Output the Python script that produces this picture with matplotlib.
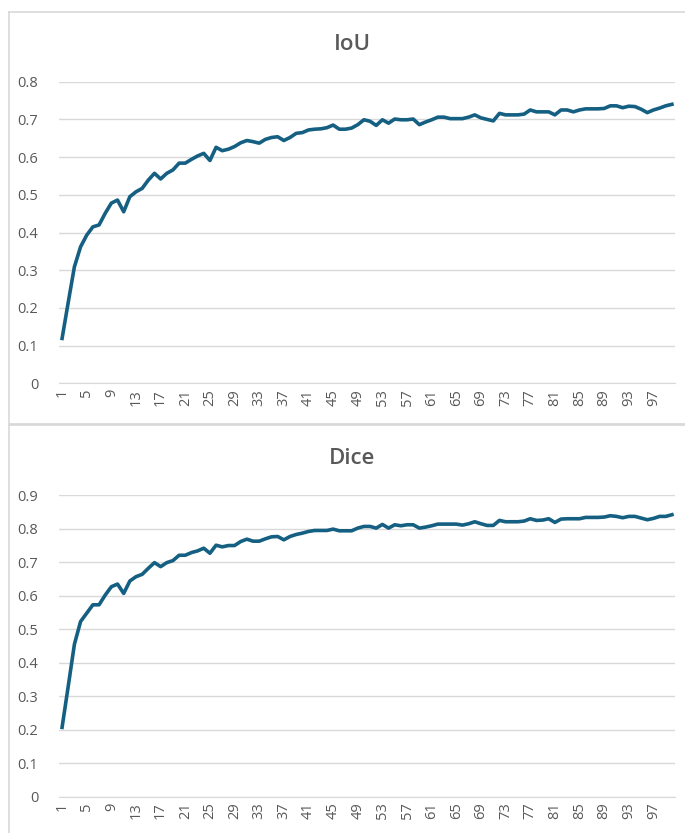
import matplotlib.pyplot as plt
from matplotlib.lines import Line2D

# epochs 1..100
epochs = list(range(1, 101))

iou = [0.119, 0.215, 0.309, 0.362, 0.393, 0.415, 0.420, 0.451, 0.478, 0.486,
       0.455, 0.495, 0.508, 0.517, 0.539, 0.557, 0.542, 0.557, 0.566, 0.584,
       0.584, 0.594, 0.603, 0.610, 0.591, 0.626, 0.617, 0.621, 0.628, 0.638,
       0.644, 0.641, 0.637, 0.647, 0.652, 0.654, 0.644, 0.652, 0.663, 0.665,
       0.672, 0.674, 0.675, 0.678, 0.685, 0.674, 0.674, 0.677, 0.686, 0.699,
       0.695, 0.684, 0.699, 0.690, 0.701, 0.699, 0.699, 0.701, 0.686, 0.693,
       0.699, 0.706, 0.706, 0.702, 0.702, 0.702, 0.706, 0.712, 0.704, 0.700,
       0.696, 0.716, 0.712, 0.712, 0.712, 0.714, 0.725, 0.720, 0.720, 0.720,
       0.712, 0.725, 0.725, 0.720, 0.725, 0.728, 0.728, 0.728, 0.729, 0.736,
       0.736, 0.731, 0.735, 0.734, 0.727, 0.718, 0.725, 0.730, 0.736, 0.740]

dice = [0.207, 0.330, 0.455, 0.523, 0.548, 0.573, 0.573, 0.602, 0.627, 0.635,
        0.607, 0.644, 0.657, 0.664, 0.682, 0.699, 0.687, 0.699, 0.705, 0.721,
        0.721, 0.729, 0.734, 0.742, 0.727, 0.751, 0.746, 0.750, 0.750, 0.762,
        0.769, 0.763, 0.763, 0.770, 0.776, 0.777, 0.767, 0.777, 0.783, 0.787,
        0.792, 0.795, 0.795, 0.795, 0.799, 0.794, 0.794, 0.794, 0.802, 0.807,
        0.807, 0.802, 0.813, 0.802, 0.812, 0.809, 0.812, 0.812, 0.802, 0.805,
        0.809, 0.814, 0.814, 0.814, 0.814, 0.811, 0.815, 0.821, 0.815, 0.810,
        0.810, 0.825, 0.821, 0.821, 0.821, 0.823, 0.830, 0.825, 0.826, 0.830,
        0.819, 0.829, 0.830, 0.830, 0.830, 0.834, 0.834, 0.834, 0.835, 0.839,
        0.837, 0.833, 0.837, 0.837, 0.832, 0.827, 0.831, 0.837, 0.837, 0.842]

iou_yticks = [0, 0.1, 0.2, 0.3, 0.4, 0.5, 0.6, 0.7, 0.8]
dice_yticks = [0, 0.1, 0.2, 0.3, 0.4, 0.5, 0.6, 0.7, 0.8, 0.9]
xtick_pos = list(range(1, 101, 4))

plt.rcParams['font.family'] = ['Open Sans', 'DejaVu Sans']
line_color = '#156082'
grid_color = '#d9d9d9'
text_color = '#595959'

W, H = 685, 833
fig = plt.figure(figsize=(W / 100, H / 100), dpi=100)


def panel(top_px, bot_px, title, title_y, values, yticks):
    ax = fig.add_axes([59 / W, 1 - bot_px / H, 616 / W, (bot_px - top_px) / H])
    ax.plot(epochs, values, color=line_color, lw=2.6, solid_joinstyle='round')
    ax.set_xlim(0.5, 100.5)
    ax.set_ylim(0, yticks[-1])
    ax.set_yticks(yticks)
    ax.set_yticklabels(['0' if t == 0 else '%.1f' % t for t in yticks])
    ax.set_xticks(xtick_pos)
    ax.set_xticklabels([str(p) for p in xtick_pos], rotation=90)
    ax.grid(axis='y', color=grid_color, lw=1)
    ax.set_axisbelow(True)
    for s in ['top', 'right', 'left']:
        ax.spines[s].set_visible(False)
    ax.spines['bottom'].set_color(grid_color)
    ax.tick_params(length=0, labelsize=10.5, labelcolor=text_color)
    ax.tick_params(axis='y', pad=15)
    ax.tick_params(axis='x', pad=4)
    fig.text(352 / W, 1 - title_y / H, title, ha='center', va='center',
             fontsize=16, color=text_color, fontweight='semibold')
    return ax


panel(81.7, 383.3, 'IoU', 44, iou, iou_yticks)
panel(495.3, 796.7, 'Dice', 458, dice, dice_yticks)

# chart borders
border = '#d9d9d9'
fig.add_artist(Line2D([8.5 / W, 8.5 / W], [0, 1 - 11.7 / H], color=border, lw=1.2))
fig.add_artist(Line2D([8.5 / W, 1], [1 - 11.7 / H, 1 - 11.7 / H], color=border, lw=1.2))
fig.add_artist(Line2D([8.5 / W, 1], [1 - 423.5 / H, 1 - 423.5 / H], color=border, lw=2))

fig.savefig('out.png', dpi=100, facecolor='white')
